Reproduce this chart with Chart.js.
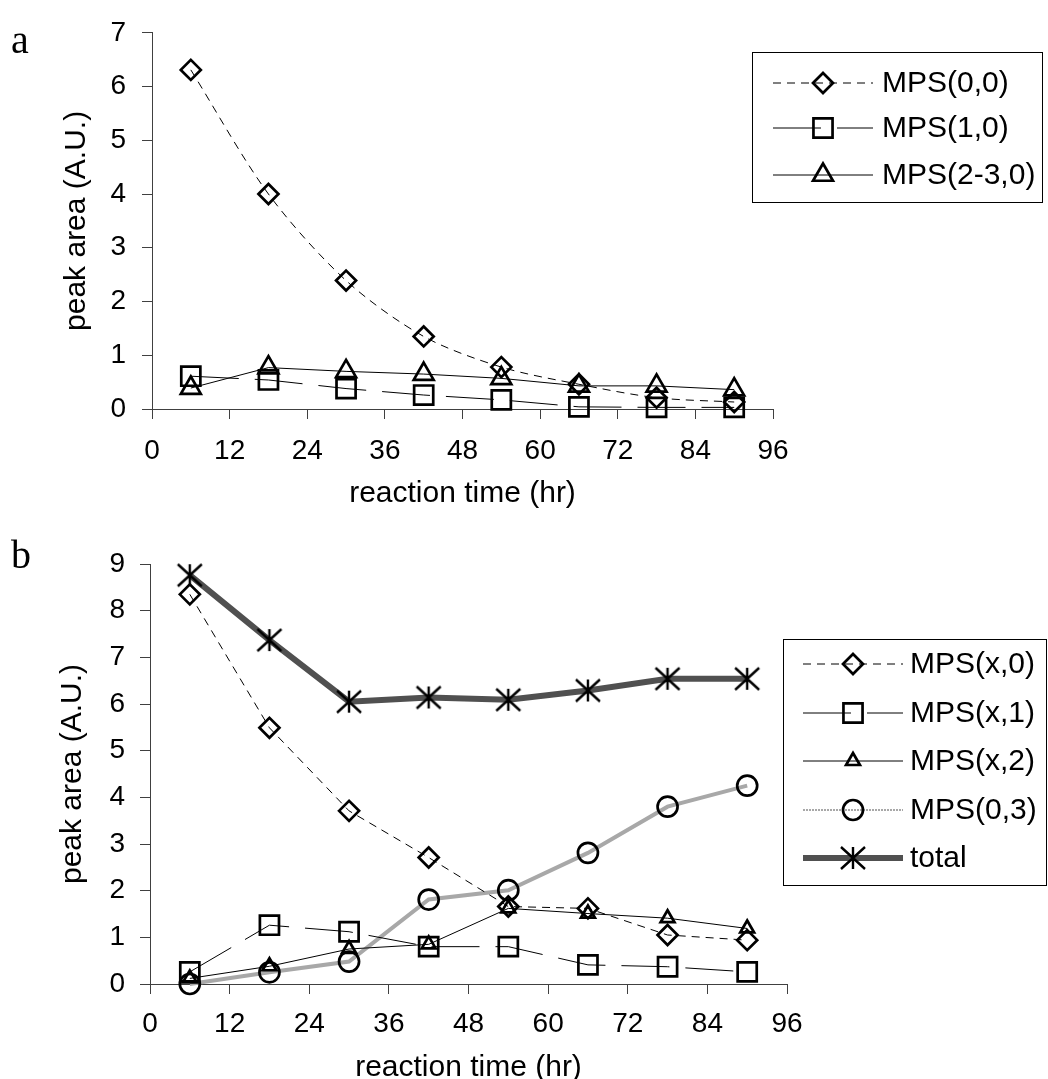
<!DOCTYPE html>
<html>
<head>
<meta charset="utf-8">
<script src="https://cdn.jsdelivr.net/npm/chart.js@4.4.1/dist/chart.umd.min.js"></script>
<style>
  html, body { margin: 0; padding: 0; background: #fff; overflow: hidden; }
  canvas { position: absolute; left: 0; }
  #chartA { top: 0; }
  #chartB { top: 520px; }
</style>
</head>
<body>
<canvas id="chartA" width="1048" height="520"></canvas>
<canvas id="chartB" width="1048" height="580"></canvas>
<script>
// sampling times (hr) and axis ticks
const hours = [6, 18, 30, 42, 54, 66, 78, 90];
const hourTicks = [0, 12, 24, 36, 48, 60, 72, 84, 96];
const areaTicksA = [0, 1, 2, 3, 4, 5, 6, 7];
const areaTicksB = [0, 1, 2, 3, 4, 5, 6, 7, 8, 9];

// panel a
const labelsA = ["MPS(0,0)", "MPS(1,0)", "MPS(2-3,0)"];
const mps00 = [6.31, 4.0, 2.39, 1.35, 0.78, 0.46, 0.21, 0.13];
const mps10 = [0.61, 0.54, 0.38, 0.26, 0.17, 0.04, 0.03, 0.03];
const mps230 = [0.39, 0.77, 0.70, 0.65, 0.57, 0.43, 0.43, 0.36];

// panel b
const labelsB = ["MPS(x,0)", "MPS(x,1)", "MPS(x,2)", "MPS(0,3)", "total"];
const mpsX0 = [8.35, 5.49, 3.71, 2.71, 1.66, 1.62, 1.05, 0.94];
const mpsX1 = [0.26, 1.26, 1.12, 0.80, 0.80, 0.41, 0.37, 0.26];
const mpsX2 = [0.12, 0.38, 0.75, 0.85, 1.62, 1.51, 1.41, 1.19];
const mps03 = [0.0, 0.25, 0.48, 1.81, 2.01, 2.81, 3.80, 4.25];
const total = [8.76, 7.37, 6.05, 6.14, 6.09, 6.29, 6.54, 6.54];

const SANS = "'Liberation Sans', Arial, sans-serif";
const AXIS = "#404040";

function points(values) {
    return values.map((v, i) => ({ x: hours[i], y: v }));
}

// asterisk marker: vertical bar plus an X
function makeAsterisk() {
    const c = document.createElement("canvas");
    c.width = 28;
    c.height = 26;
    const g = c.getContext("2d");
    g.strokeStyle = "#000";
    g.lineWidth = 2.4;
    g.beginPath();
    g.moveTo(14, 2); g.lineTo(14, 24);
    g.moveTo(2, 2); g.lineTo(26, 24);
    g.moveTo(2, 24); g.lineTo(26, 2);
    g.stroke();
    return c;
}
const asterisk = makeAsterisk();

function series(label, values, style) {
    return Object.assign({
        label: label,
        data: points(values),
        borderColor: "#000",
        borderWidth: 1,
        borderDash: [],
        backgroundColor: "rgba(0,0,0,0)",
        pointBackgroundColor: "rgba(0,0,0,0)",
        pointBorderColor: "#000",
        pointBorderWidth: 2.7,
        pointHoverRadius: 0,
        tension: 0,
        clip: false,
    }, style);
}

// boxed legend with line + marker samples, drawn on the canvas
const boxLegend = {
    id: "boxLegend",
    afterDraw(chart, args, opts) {
        const ctx = chart.ctx;
        const b = opts.box;
        ctx.save();
        ctx.fillStyle = "#fff";
        ctx.fillRect(b.left, b.top, b.right - b.left, b.bottom - b.top);
        ctx.strokeStyle = "#000";
        ctx.lineWidth = 1;
        ctx.strokeRect(b.left + 0.5, b.top + 0.5, b.right - b.left, b.bottom - b.top);

        chart.data.datasets.forEach((ds, i) => {
            const y = opts.rows[i];
            ctx.save();
            ctx.strokeStyle = ds.borderColor;
            ctx.lineWidth = ds.legendWidth || ds.borderWidth;
            ctx.setLineDash(ds.legendDash || ds.borderDash || []);
            ctx.beginPath();
            ctx.moveTo(opts.lineFrom, y);
            ctx.lineTo(opts.lineTo, y);
            ctx.stroke();
            ctx.restore();

            ctx.save();
            ctx.setLineDash([]);
            ctx.fillStyle = "rgba(0,0,0,0)";
            ctx.strokeStyle = "#000";
            ctx.lineWidth = ds.pointBorderWidth;
            Chart.helpers.drawPoint(ctx, {
                pointStyle: ds.pointStyle,
                radius: ds.legendRadius || ds.pointRadius,
                borderWidth: ds.pointBorderWidth,
                rotation: 0,
            }, (opts.lineFrom + opts.lineTo) / 2, y);
            ctx.restore();

            ctx.fillStyle = "#000";
            ctx.font = "30px " + SANS;
            ctx.textBaseline = "alphabetic";
            ctx.fillText(ds.label, opts.textX, y + 8.5);
        });

        // panel letter
        ctx.font = "40px 'Liberation Serif', 'Times New Roman', serif";
        ctx.fillStyle = "#000";
        ctx.fillText(opts.letter, opts.letterX, opts.letterY);
        ctx.restore();
    },
};

function scales(cfg) {
    return {
        x: {
            type: "linear",
            min: 0,
            max: 96,
            afterBuildTicks: (s) => { s.ticks = hourTicks.map((v) => ({ value: v })); },
            afterFit: (s) => { s.height = cfg.xHeight; },
            grid: { drawOnChartArea: false, tickLength: 10, color: AXIS },
            border: { color: AXIS, width: 1 },
            ticks: { color: "#000", font: { family: SANS, size: 28 }, padding: cfg.xPad, maxRotation: 0, autoSkip: false },
            title: { display: true, text: "reaction time (hr)", color: "#000", font: { family: SANS, size: 30 }, padding: { top: 0, bottom: cfg.titlePad } },
        },
        y: {
            type: "linear",
            min: 0,
            max: cfg.yTicks[cfg.yTicks.length - 1],
            afterBuildTicks: (s) => { s.ticks = cfg.yTicks.map((v) => ({ value: v })); },
            afterFit: (s) => { s.width = cfg.yWidth; },
            grid: { drawOnChartArea: false, tickLength: 10, color: AXIS },
            border: { color: AXIS, width: 1 },
            ticks: { color: "#000", font: { family: SANS, size: 28 }, padding: cfg.yPad },
            title: { display: true, text: "peak area (A.U.)", color: "#000", font: { family: SANS, size: 30 }, padding: { top: cfg.yTitlePad, bottom: 0 } },
        },
    };
}

const baseOptions = {
    responsive: false,
    animation: false,
    events: [],
    plugins: { legend: { display: false }, tooltip: { enabled: false } },
};

new Chart(document.getElementById("chartA"), {
    type: "line",
    data: {
        datasets: [
            series(labelsA[0], mps00, { borderDash: [8, 6], pointStyle: "rectRot", pointRadius: 10, tension: 0.3 }),
            series(labelsA[1], mps10, { borderDash: [48, 16], pointStyle: "rect", pointRadius: 13.5 }),
            series(labelsA[2], mps230, { pointStyle: "triangle", pointRadius: 11.5 }),
        ],
    },
    options: Object.assign({}, baseOptions, {
        layout: { padding: { left: 0, top: 31, right: 275, bottom: 0 } },
        scales: scales({ xHeight: 111, xPad: 15, titlePad: 8, yTicks: areaTicksA, yWidth: 152, yPad: 16, yTitlePad: 59 }),
        plugins: Object.assign({}, baseOptions.plugins, {
            boxLegend: {
                box: { left: 752, top: 52, right: 1042, bottom: 202 },
                rows: [83, 128, 175],
                lineFrom: 773, lineTo: 873, textX: 882,
                letter: "a", letterX: 11, letterY: 53,
            },
        }),
    }),
    plugins: [boxLegend],
});

new Chart(document.getElementById("chartB"), {
    type: "line",
    data: {
        datasets: [
            series(labelsB[0], mpsX0, { borderDash: [8, 6], pointStyle: "rectRot", pointRadius: 10 }),
            series(labelsB[1], mpsX1, { borderDash: [48, 16], pointStyle: "rect", pointRadius: 13.5 }),
            series(labelsB[2], mpsX2, { pointStyle: "triangle", pointRadius: 8 }),
            series(labelsB[3], mps03, { borderColor: "#a8a8a8", borderWidth: 4, pointStyle: "circle", pointRadius: 10, legendWidth: 2, legendDash: [2, 1] }),
            series(labelsB[4], total, { borderColor: "#505050", borderWidth: 6, pointStyle: asterisk, pointRadius: 13 }),
        ],
    },
    options: Object.assign({}, baseOptions, {
        layout: { padding: { left: 0, top: 44, right: 261, bottom: 0 } },
        scales: scales({ xHeight: 116, xPad: 13, titlePad: 14, yTicks: areaTicksB, yWidth: 150, yPad: 15, yTitlePad: 55 }),
        plugins: Object.assign({}, baseOptions.plugins, {
            boxLegend: {
                box: { left: 783, top: 119, right: 1046, bottom: 365 },
                rows: [144, 193, 241, 290, 338],
                lineFrom: 803, lineTo: 903, textX: 910,
                letter: "b", letterX: 11, letterY: 48,
            },
        }),
    }),
    plugins: [boxLegend],
});
</script>
</body>
</html>
